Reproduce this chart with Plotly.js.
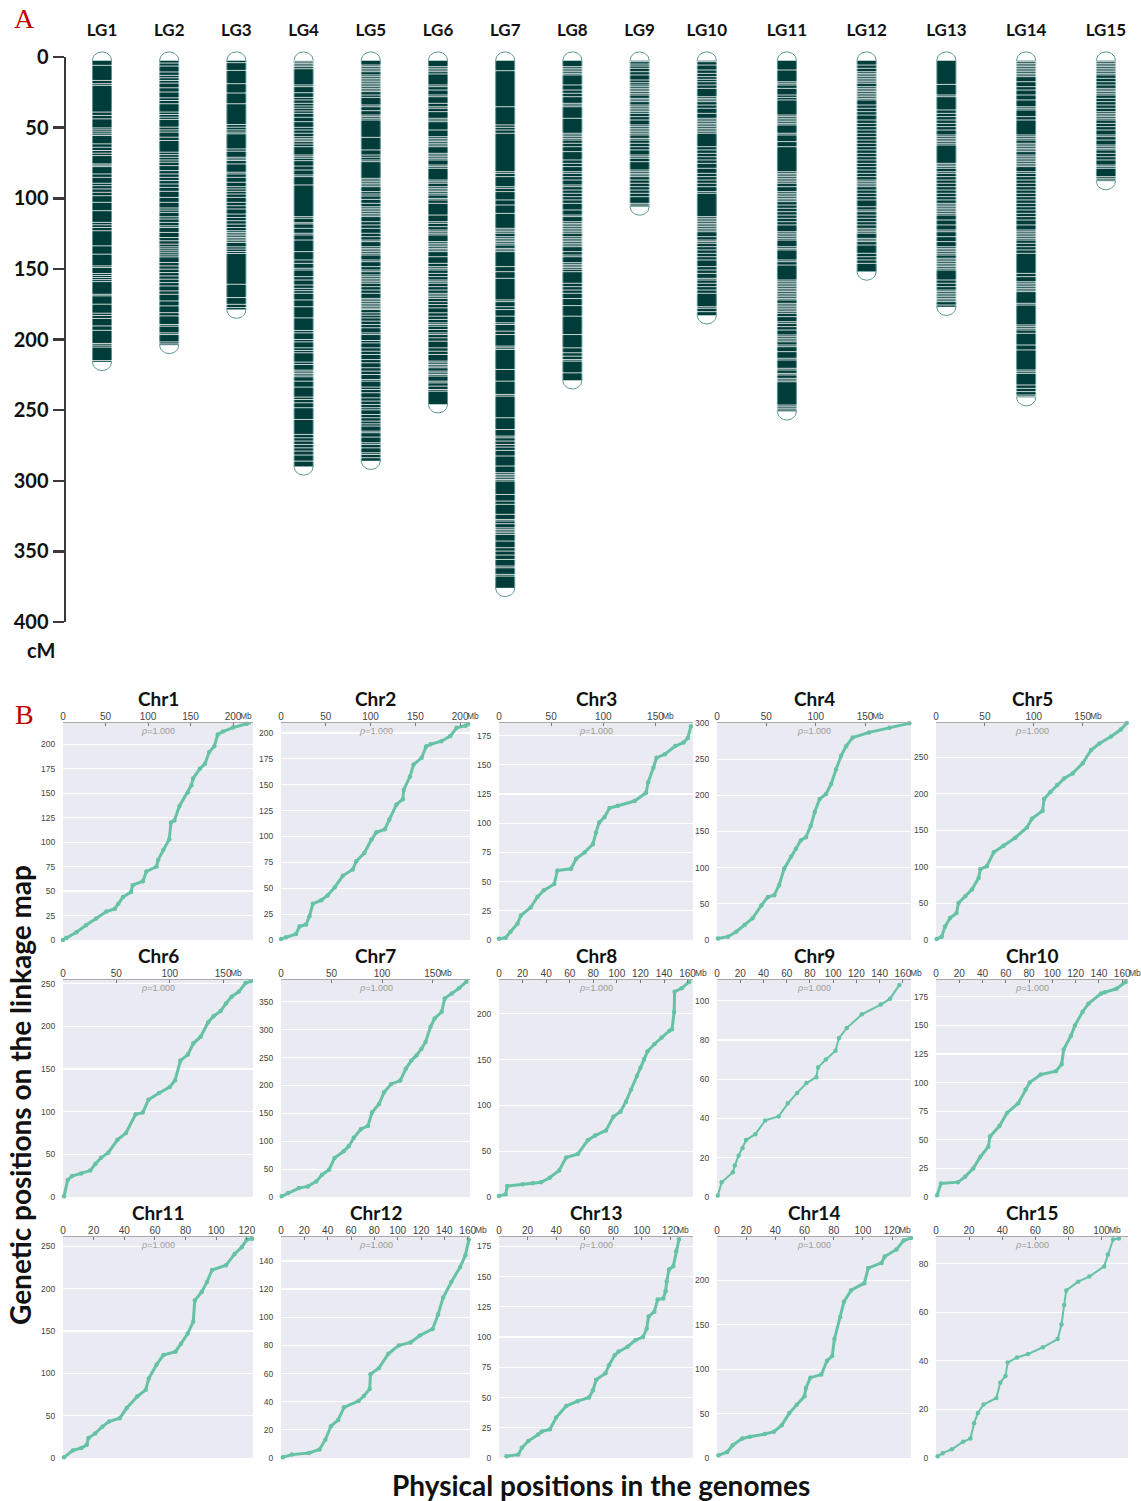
<!DOCTYPE html>
<html><head><meta charset="utf-8">
<script src="https://cdn.plot.ly/plotly-3.0.1.min.js"></script>
<style>html,body{margin:0;padding:0;background:#fff}#chart{width:1141px;height:1501px}</style>
</head><body><div id="chart"></div>
<script>
// ---------------- DATA: Panel A (linkage groups, cM) ----------------
const lgNames = ['LG1','LG2','LG3','LG4','LG5','LG6','LG7','LG8','LG9','LG10','LG11','LG12','LG13','LG14','LG15'];
const lgLengths = [216,204,179,290,286,246,376,229,106,183,251,152,177,241,88];
const lg1 = [5.9,16.6,18.9,20.1,39,41.4,43.8,50.2,51.6,53,54.4,55.6,61.5,63.9,66.2,68.1,69.8,75.7,76.6,77.6,82.8,85.2,89.4,91.1,93.4,95.8,98.2,102.9,108.8,117.1,118.8,120.7,123,133.7,139.6,147.9,149,153.3,154.7,156.1,157.6,159,168,169.1,175,181.4,183,185.1,190.4,193.5,202.8,204,205.4,214.9];
const lg2 = [4.3,6.4,10.6,13,14.7,16.6,18.5,21.8,24.8,28.9,30.8,33.1,39,40.7,42.6,44.2,49.7,51.6,53.2,56.8,59.1,67.4,69.1,71,72.9,74.5,76.9,80.4,82.8,85.2,87.5,89.9,92.3,95.1,99.4,102.9,106.9,108.4,110,113.1,114.7,117.1,119.5,120.7,124.2,127.8,130.1,132.5,134.4,135.8,137.2,138.6,140.1,141.5,145.5,147.9,150.2,152.6,155,157.3,159.7,162.1,165.6,168,172.7,176.2,181,183.3,189.4,190.6,195.3,196.5,201.7,203.1];
const lg3 = [4,9.5,18.9,25.5,33.1,47.8,49.7,51.6,53.2,54.4,65.1,66.7,71,72.2,73.3,75.7,81.6,82.8,85.2,88.7,91.8,93.4,95.1,97,99.4,102.9,105.3,107.6,111.2,113.6,115.9,118.3,120.7,123,124.2,125.4,126.6,127.8,128.9,130.1,131.3,134.4,136,137.7,139.1,160.9,170.3,175.1,177.4];
const lg4 = [2.6,3.5,4.5,5.7,6.8,8.3,19.8,21,25.3,28.6,30.4,32.8,34.7,36.3,38.2,39.9,42.7,45.8,49.8,51.7,54,56.4,57.8,58.8,59.9,61.6,63.5,69.4,70.6,71.7,73.4,77.2,80,83.5,84.7,90.6,113,114.2,117.3,118.2,121.3,124.8,126,129.6,137.8,143.7,146.1,149.6,150.8,155.5,157.9,161.4,163.8,165.4,167.3,172,176.8,184.7,193.6,195.3,200,201.7,205.9,207.8,209.4,216,217.7,221.7,222.9,224,225.2,226.4,229.5,233.7,240.8,242.5,244.8,248.3,256.6,267.2,269.6,271.9,274.3,276.7,279,281.8,286.1];
const lg5 = [5.7,6.8,8,9.2,10.4,12.7,13.9,15.1,16.3,17.5,18.6,19.8,21,22.2,23.4,24.5,26.9,28.6,34,35.2,38,41.1,42.2,43.4,44.6,56.9,65.8,69.4,71,72.9,74.1,85.9,87.1,88.3,89.4,90.6,91.8,95.3,97,98.4,100.8,103.6,106,107.1,108.3,109.5,110.7,111.9,113,116.6,118.9,121.3,124.8,127.2,129.6,130.7,134.3,135.5,136.6,137.8,139,140.2,143.7,144.9,148.4,150.8,152,154.3,155.5,156.7,157.9,159.1,160.2,162.6,165,167.3,170.9,172,173.2,174.4,175.6,176.8,177.9,178.8,181.1,182.8,184.7,187,189.4,191.7,195.3,196.5,200.7,202.4,205.9,208.3,210.6,214.2,216.5,220,222.4,224.8,228.3,229.5,233.7,235.4,237.7,241.3,243.6,246,248.3,249.8,253.1,255.4,257.8,259.7,261.3,264.9,266,269.1,273.1,274.3,276.7,280.2,281.4,283.7];
const lg6 = [6.8,8,9.2,10.4,12,19.8,21,23.4,26.9,28.1,32.8,35.2,36.3,38.7,43.4,44.6,45.8,51.7,56.4,57.6,58.8,59.9,61.1,62.3,63.5,68.2,69.4,70.6,71.7,72.9,76.5,77.6,78.8,87.1,88.3,89.4,91.8,93,94.2,95.3,96.5,97.7,100.1,101.2,103.6,111.9,116.6,117.8,120.1,122.5,123.7,124.8,126,130.7,131.9,133.1,134.3,135.5,136.6,137.8,141.4,146.1,148.4,149.6,150.8,153.2,155.5,157.9,159.1,160.2,162.6,165,167.3,168.5,169.7,170.9,173.2,175.2,177.6,181.1,183.5,185.8,188.2,189.4,190.6,192.9,195.3,196.5,198.8,201.2,205.9,208.3,210.6,215.3,216.5,217.7,218.9,220,222.4,223.6,224.8,225.9,229.5,230.7,233,235.4,236.6];
const lg7 = [9.7,35.2,48.1,49.8,51.7,54,81.2,82.4,84.7,91.8,93,95.3,101.2,104.8,110.7,121.3,122.5,123.7,124.8,127.2,128.4,129.6,130.7,131.9,133.1,135.5,136.6,137.8,148.4,152,156.7,172,173.2,176.8,178.8,183.5,188.2,189.4,194.1,196.5,204.7,205.9,207.1,221.2,229.5,238.9,240.1,255.4,263.7,268.4,269.6,271.9,274.3,276.2,278.5,282.5,289.6,294.3,295.5,296.7,297.9,299.1,300.2,309.7,314.4,316.7,323.8,327.4,328.5,330.4,333.3,334.4,335.6,336.8,338,342.7,347.4,349.8,352.6,355.7,360.4,361.6,366.3,367.5];
const lg8 = [6.8,8,9.2,10.4,11.6,12.7,19.8,23.4,25.7,28.1,32.8,34,35.2,43.4,54,55.2,56.4,57.6,58.8,61.1,63.5,67,72.9,75.3,77.6,81.2,82.4,84.7,87.1,90.6,91.8,94.2,96.5,98.9,101.2,103.6,108.3,111.9,113,116.6,117.8,118.9,120.1,121.3,122.5,123.7,124.8,127.2,128.4,129.6,130.7,131.9,133.1,134.3,137.8,140.2,141.4,145.6,146.8,148,149.1,150.3,152,160.2,162.6,165,167.3,171,176,183.5,196.5,205.9,209.4,211.8,214.2,215.3,223.6];
const lg9 = [3.3,5,6.4,8,10.4,12.7,16.3,18.2,19.8,21,22.2,23.4,24.5,25.7,26.9,29.3,30.4,31.6,34,35.2,36.3,37.5,38.7,39.9,42.2,44.6,48.1,49.3,50.5,51.7,52.9,54,55.2,57.6,58.8,61.1,63.5,65.8,69.4,70.6,71.7,74.1,80,81.2,82.4,83.5,84.7,87.1,89.4,91.8,94.2,96.5,98.9,103.6,104.8];
const lg10 = [3.3,5.7,9.2,11.6,13.9,15.8,17.5,19.8,22.2,28.1,29.3,30.4,31.6,34,36.3,39.9,43.4,44.6,45.8,47,48.1,49.3,50.5,51.7,52.9,54,63.5,65.8,68.2,70.6,72.9,75.3,78.8,82.4,84.7,87.1,89.4,91.8,95.3,96.5,113,114.2,115.4,116.6,117.8,118.9,120.1,121.3,122.5,123.7,127.2,129.6,130.7,131.9,134.3,136.6,139,141.4,143.7,148.4,150.8,153.2,156.7,157.9,160.2,162.6,165,167.3,176.8,177.9,180.3];
const lg11 = [9.2,17.5,18.6,19.8,22.2,26.9,28.6,30.4,41.1,42.2,43.4,44.6,45.8,47,48.1,54,55.2,59.9,63.5,81.2,82.4,83.5,84.7,85.9,87.1,88.3,89.4,91.8,95.3,96.5,97.7,98.9,100.1,101.2,102.4,104.8,107.1,109.5,111.9,114.2,116.6,118.9,123.7,124.8,126,127.2,128.4,129.6,134.3,135.5,136.6,143.7,144.9,147.3,157.9,159.1,160.2,161.4,162.6,163.8,165,166.1,167.3,168.5,169.7,170.9,172,174.4,175.6,176.8,177.9,179.1,180.3,181.5,183.8,187.4,188.6,190.9,193.3,196.8,198,199.2,200.4,201.6,203.9,205.1,208.6,213.3,214.5,220.4,221.6,224,225.1,227.5,228.7,229.9,246.4,247.6,248.7,249.9];
const lg12 = [5.7,8,10.4,11.6,12.7,13.9,15.1,16.3,17.5,18.6,21,22.2,23.4,24.5,25.7,26.9,28.1,29.3,30.4,34,36.3,38.7,41.1,44.6,47,49.3,51.7,54,56.4,58.8,61.1,63.5,65.8,68.2,70.6,72.9,75.3,77.6,80,82.4,84.7,87.1,88.3,89.4,90.6,91.8,94.2,96.5,98.9,101.2,106,108.3,109.5,111.9,114.2,116.6,118.9,121.3,122.5,123.7,124.8,128.4,129.6,130.7,133.1,139,141.4,143.7,146.1];
const lg13 = [19.4,26.9,28.1,37.5,39.9,42.2,44.6,47,49.3,51.7,55.2,56.4,57.6,58.8,59.9,61.1,62.3,75.3,76.5,77.6,78.8,81.2,82.4,84.7,87.1,89.4,91.8,94.2,96.5,98.9,101.2,103.6,104.8,106,107.1,108.3,109.5,110.7,111.9,115.4,118.9,122.5,123.7,127.2,130.7,134.3,135.5,136.6,137.8,139,140.2,142.5,143.7,144.9,146.1,147.3,148.4,149.6,150.8,157.9,160.2,162.6,165,166.1,167.3,168.5,169.7,170.9,172,173.2,175.6];
const lg14 = [3.3,4.5,5.7,6.8,8,9.2,10.4,11.6,12.7,13.9,17.5,21,23.4,26.9,30.4,35.2,36.3,37.5,42.2,44.6,55.2,56.4,57.6,58.8,61.1,62.3,63.5,64.7,65.8,67,69.4,70.6,71.7,72.9,74.1,75.3,76.5,77.6,81.2,82.4,84.7,87.1,89.4,91.8,94.2,96.5,98.9,101.2,103.6,106,108.3,110.7,113,115.4,118.9,122.5,123.7,124.8,126,127.2,128.4,129.6,131.9,134.3,136.6,139,153.2,155.5,159.1,160.2,161.4,162.6,163.8,165,166.1,174.4,175.6,189.7,190.9,192.1,193.3,195.6,203.9,207.4,221.6,222.8,224,232.2,234.6,236.9,239.3,240.5];
const lg15 = [3.3,4.5,5.7,6.8,8,9.2,10.4,11.6,12.7,15.1,17.5,19.8,22.2,23.4,24.5,25.7,26.9,29.3,31.6,34,36.3,38.7,39.9,41.1,42.2,43.4,44.6,47,49.3,51.7,55.2,56.4,58.8,62.3,63.5,64.7,65.8,68.2,70.6,72.9,76.5,77.6,78.8,84.7,85.9,87.1];
const lgMarkers = [lg1,lg2,lg3,lg4,lg5,lg6,lg7,lg8,lg9,lg10,lg11,lg12,lg13,lg14,lg15];
const cmTicks = [0,50,100,150,200,250,300,350,400];

// ---------------- DATA: Panel B (physical Mb vs genetic cM) ----------------
const chrNames = ['Chr1','Chr2','Chr3','Chr4','Chr5','Chr6','Chr7','Chr8','Chr9','Chr10','Chr11','Chr12','Chr13','Chr14','Chr15'];
const rhoText = '1.000';
const chr1Mb = [0,3.9,15.7,27,39,51,61,65,70.6,80,82,94,98,110,112,118,125,127,131,137,147,151,153,161,167,172,178,182,188,200,216,221];
const chr1cM = [0,2,8,15,22,29,32,37,44,49,56,60,70,75,82,92,103,120,122,137,151,158,165,175,180,192,198,210,213,217,221,222];
const chr2Mb = [0,5.6,16.8,20.6,28,31.8,35.5,45,52,60,69,80,84,93,101,106.5,116,121,129,136,137,144,148,157,162,167,179,189,196,206,209];
const chr2cM = [1,2.6,5.8,13,15,23,35,38.5,43,51,62,68,76,84,97,104,107,116.5,131,136,145,158,169.5,176,187,189,192,197,205,207,208.6];
const chr3Mb = [0,6.4,11,17.7,21,30.5,37,43,53,56,69,74,82,90,93,96,101,106,114,130,141,143,148,151,159,169,177,181,184];
const chr3cM = [1,2,7,14,21,28,37,42.5,48,59.5,61,69.5,75,82,92,100.7,105,113,115,119,126,135,147.5,156,159,166,169,173,183];
const chr4Mb = [1,11,19.5,28,36,45,51.6,58,63,68,75,80,85,90,95,99,104,110.5,115.6,120.6,125.7,130.8,137.5,154,174.6,194.8];
const chr4cM = [2,4.6,11.5,20.6,30,48,59.6,62,76,98.6,115,126,138,142,158,177,195,202,215.6,236,254.6,268,280,287,293.6,299.5];
const chr5Mb = [0.7,5.8,9.3,14.4,21,23,30,36.7,43.6,45.3,52,59,69,81,93,98,109,110.5,117,124,131,139.7,150,158.6,167,179,189,195];
const chr5cM = [1.4,4.6,18.4,30,37,50.6,60,69,85,96.7,101,120,129,140,154,166,177,193,202.6,212,221,228,242,260,269,278.5,288,297];
const chr6Mb = [1,4.4,8.5,17,25.5,30.5,35.6,42.4,51,59,68,74.7,80,90,100,105,110,117,122,129,136,141,147.6,152.7,158,164.6,171,176];
const chr6cM = [1,20,24.5,27.5,31,39,46,52,67,75,97,99,114,122,129,137,160,167,180,188,205,212,218,227,235,240.6,251,253];
const chr7Mb = [0.7,7,17.6,26.5,35,40.6,47.6,53,62,67,72,79,86,90,97,102,109,118,123.5,129,134,139,143,148,152,159,162,169,176,183.5];
const chr7cM = [1.2,7,16,19,28,40,49,70,82,91,106,121.5,127.5,151.5,166.6,187.6,202.7,208.7,229.7,244.8,253.8,265.8,278,305,320,332,356,365,374,386];
const chr8Mb = [0,5.7,7,20,28.6,35.7,43,51,57,67,75.4,81.5,90.8,97,103,107.7,112,117,120,123,126,132,138,144.6,146.8,148.6,149,155,161.5];
const chr8cM = [1,3,12,14,15,16,21,29,43,47,62,67,72.7,87.5,93,104,117,132,141,150,159,167,174,181.5,183,202,224,227.7,235];
const chr9Mb = [0.7,4,13.7,15.3,18.6,22,25,33,41.5,53,61,69,77,85.5,87,93.7,102,105,111.7,124.7,141,149,157];
const chr9cM = [0.8,7.5,12.6,16,21,25,29,32,39,41,47.7,53,58,61,66,70,74.5,81,86,93,98,101,108];
const chr10Mb = [1,4.2,18.8,25,32,38,45,46.4,54.5,61,70.7,77,80.5,90,103,108,109.7,116,119.4,126,131,142,145,155,163];
const chr10cM = [1.5,11.8,13,17.6,25,35,44,53,62,73.5,82,94,100,107,110,116,129,141,150,162,169,178,179,182,188];
const chr11Mb = [0.7,6.4,12,15.5,16.6,21,25.7,30,37,41.6,48.4,54,56,61,65.5,73.4,77,81.4,85,86,90.5,94,97.3,106.4,112,116.6,120,123.4];
const chr11cM = [0.8,9,11.8,15.7,23.5,29,37,43,47,59,72.6,80.5,94,110,121.7,125.6,135,147,161,186,196,208,222,227.6,241,249,258,259];
const chr12Mb = [1.6,9.5,24,33,38,42.8,49,54,66.5,71,76,76.7,84,92,101,111,119,130,134.6,139,146,153.6,158,161];
const chr12cM = [0.5,2.4,3.6,6,13,22.6,27,36,40.5,44,49,59.5,64,74,80,82,87,91.7,102,114,125,135.7,144,155];
const chr13Mb = [5.3,13.5,16,20.5,27.4,30,35.6,40,47,55,63,65.8,68,74.5,77,81,83.7,90,95.5,100.8,103.4,104.7,108.7,111,115,116.6,117.4,119,122,124,126];
const chr13cM = [1.4,2.8,8.4,14,19.5,22,23.7,33.5,43,47,50,56,64.7,70,76.7,85,88,92,97.5,100,107,117,121,131,132,138,146,156,158.6,171,181];
const chr14Mb = [1,7,10.8,17.3,22.5,32.8,39,44.4,49.6,54.7,60,61,64,71.5,75.4,79,80.5,84.4,87,92,101,103.7,112.8,115,123,128,133];
const chr14cM = [3,6.8,14.4,22,24,27,29.7,37,50.6,60,69.6,79,90.5,94,109.5,115,134,159,176,189,197,214,219.8,227,235,245,248];
const chr15Mb = [1,4,9.6,16.4,20.8,23,25.3,28.7,36.5,38.8,42,43.3,48.9,55.6,64.6,73.5,75.8,77.4,78.7,85.9,92.6,101.6,103.8,107,110.5];
const chr15cM = [0.7,2,3.6,6.7,8,14.3,18.5,22,24.7,31,33.8,39.3,41.4,42.8,45.6,49,55,63,69,72.6,74.7,78.9,83.8,90,90.4];
const chrMb = [chr1Mb,chr2Mb,chr3Mb,chr4Mb,chr5Mb,chr6Mb,chr7Mb,chr8Mb,chr9Mb,chr10Mb,chr11Mb,chr12Mb,chr13Mb,chr14Mb,chr15Mb];
const chrCM = [chr1cM,chr2cM,chr3cM,chr4cM,chr5cM,chr6cM,chr7cM,chr8cM,chr9cM,chr10cM,chr11cM,chr12cM,chr13cM,chr14cM,chr15cM];

// ---------------- LAYOUT CONFIG ----------------
const W = 1141, H = 1501;
const fx = p => p / W, fy = p => 1 - p / H;
const darkTeal = '#003c39', outline = '#5a9592', pointColor = '#66c2a5';
const boldFont = 'Lato, "Open Sans", sans-serif';

const chrXMax = [223.5,211,186,196.5,196.3,178,187,164.6,167,165,124,162,135.8,133,116];
const chrYMax = [221.7,209.6,185.8,300,297,254.5,389,236.8,110.5,189.7,261,157,182.8,249,91];
const chrXDt = [50,50,50,50,50,50,50,20,20,20,20,20,20,20,20];
const chrYDt = [25,25,25,50,50,50,50,50,20,25,50,20,25,50,20];
const colPx = [[63,253],[281,470],[499,693],[717,911],[936,1128]];
const rowPx = [[723,940],[980,1197],[1237,1458]];

const traces = [];
const layout = {
  width: W, height: H, margin: {l:0, r:0, t:0, b:0},
  paper_bgcolor: '#fff', plot_bgcolor: 'rgba(0,0,0,0)',
  showlegend: false, hovermode: false,
  font: {family: '"Liberation Sans", Arial, sans-serif', color: '#444'},
  shapes: [], annotations: []
};

// ---- Panel A ----
const aTop = 40, aBot = 640, cm0 = 57, cm400 = 622;
const pxPerCM = (cm400 - cm0) / 400;
const yRangeA = [400 + (aBot - cm400) / pxPerCM, -(cm0 - aTop) / pxPerCM];
const groups = [
  {ids:[0,1,2,3,4,5,6,7,8,9], xa:'x', ya:'y', dom:[68.4, 740.6], unit:67.2},
  {ids:[10,11,12,13,14], xa:'x2', ya:'y2', dom:[747, 1141], unit:79.76}
];
const barW = 19, barTop = 2.4, capH = 6;
groups.forEach((g, gi) => {
  const sfx = gi === 0 ? '' : '2';
  const loc = g.ids.map((_, k) => k);
  const nUnits = (g.dom[1] - g.dom[0]) / g.unit;
  layout['xaxis' + sfx] = {
    domain: [fx(g.dom[0]), fx(g.dom[1])], anchor: 'y' + sfx, side: 'top',
    range: [-0.5, -0.5 + nUnits], tickvals: loc, ticktext: g.ids.map(i => lgNames[i]),
    showgrid: false, zeroline: false, showline: false, ticks: '',
    tickfont: {family: boldFont, size: 17, weight: 'bold', color: '#111'}, fixedrange: true
  };
  layout['yaxis' + sfx] = {
    domain: [fy(aBot), fy(aTop)], anchor: 'x' + sfx, range: yRangeA,
    visible: false, showgrid: false, zeroline: false, fixedrange: true
  };
  traces.push({
    type: 'bar', x: loc, base: g.ids.map(() => barTop), y: g.ids.map(i => lgLengths[i] - barTop),
    width: barW / g.unit, marker: {color: darkTeal, line: {color: outline, width: 1}},
    xaxis: g.xa, yaxis: g.ya, hoverinfo: 'skip'
  });
  const mx = [], my = [];
  g.ids.forEach((i, k) => lgMarkers[i].forEach(v => { mx.push(k); my.push(v); }));
  traces.push({
    type: 'scatter', mode: 'markers', x: mx, y: my, xaxis: g.xa, yaxis: g.ya, hoverinfo: 'skip',
    marker: {symbol: 'line-ew', size: barW - 2, color: '#fff', line: {color: '#ffffff', width: 0.8}}
  });
  const cx = [], cy = [];
  const rx = (barW / 2) / g.unit;
  g.ids.forEach((i, k) => {
    [[barTop, -1], [lgLengths[i], 1]].forEach(([y0, dir]) => {
      for (let s = 0; s <= 24; s++) {
        const t = Math.PI * s / 24;
        cx.push(k + rx * Math.cos(t)); cy.push(y0 + dir * capH * Math.sin(t));
      }
      cx.push(null); cy.push(null);
    });
  });
  traces.push({
    type: 'scatter', mode: 'lines', x: cx, y: cy, fill: 'toself', fillcolor: '#fff',
    line: {color: outline, width: 1}, xaxis: g.xa, yaxis: g.ya, hoverinfo: 'skip', connectgaps: false
  });
});
// ruler axis
layout.xaxis3 = {domain: [fx(66), fx(90)], anchor: 'y3', range: [0, 1], visible: false, fixedrange: true};
layout.yaxis3 = {
  domain: [fy(cm400), fy(cm0)], anchor: 'x3', range: [400, 0], side: 'left',
  showline: true, linewidth: 2.5, linecolor: '#3a3a3a', ticks: 'outside', ticklen: 11, tickwidth: 2.5,
  tickcolor: '#3a3a3a', tickvals: cmTicks, showgrid: false, zeroline: false,
  tickfont: {family: boldFont, size: 20, weight: 'bold', color: '#111'}, fixedrange: true
};
traces.push({type: 'scatter', mode: 'markers', x: [0.5], y: [0], marker: {opacity: 0}, xaxis: 'x3', yaxis: 'y3', hoverinfo: 'skip'});

layout.annotations.push(
  {xref: 'paper', yref: 'paper', x: fx(24), y: fy(19), text: 'A', showarrow: false,
   font: {family: '"Liberation Serif", "Times New Roman", serif', size: 28, color: '#c00000'}, xanchor: 'center', yanchor: 'middle'},
  {xref: 'paper', yref: 'paper', x: fx(24), y: fy(714), text: 'B', showarrow: false,
   font: {family: '"Liberation Serif", "Times New Roman", serif', size: 28, color: '#c00000'}, xanchor: 'center', yanchor: 'middle'},
  {xref: 'paper', yref: 'paper', x: fx(58), y: fy(650), text: '<b>cM</b>', showarrow: false,
   font: {family: boldFont, size: 20, color: '#111'}, xanchor: 'right', yanchor: 'middle'},
  {xref: 'paper', yref: 'paper', x: fx(20), y: fy(1095), text: '<b>Genetic positions on the linkage map</b>', showarrow: false,
   textangle: -90, font: {family: boldFont, size: 28, color: '#111'}, xanchor: 'center', yanchor: 'middle'},
  {xref: 'paper', yref: 'paper', x: fx(601), y: fy(1485), text: '<b>Physical positions in the genomes</b>', showarrow: false,
   font: {family: boldFont, size: 28, color: '#111'}, xanchor: 'center', yanchor: 'middle'}
);

// ---- Panel B ----
chrNames.forEach((name, k) => {
  const n = k + 4;
  const col = colPx[k % 5], row = rowPx[Math.floor(k / 5)];
  const xa = 'x' + n, ya = 'y' + n;
  layout['xaxis' + n] = {
    domain: [fx(col[0]), fx(col[1])], anchor: ya, side: 'top', range: [0, chrXMax[k]],
    tick0: 0, dtick: chrXDt[k], showgrid: false, zeroline: false, showline: true,
    linecolor: '#a8a8a8', linewidth: 1, ticks: 'inside', ticklen: 3, tickcolor: '#777',
    ticklabelstandoff: -2,
    tickfont: {size: 10, color: '#444'}, fixedrange: true
  };
  layout['yaxis' + n] = {
    domain: [fy(row[1]), fy(row[0])], anchor: xa, range: [0, chrYMax[k]],
    tick0: 0, dtick: chrYDt[k], showgrid: true, gridcolor: '#ffffff', gridwidth: 1.2,
    zeroline: false, showline: false, ticks: 'outside', ticklen: 5, tickcolor: 'rgba(0,0,0,0)',
    tickfont: {size: 8.5, color: '#444'}, fixedrange: true
  };
  layout.shapes.push({type: 'rect', xref: xa + ' domain', yref: ya + ' domain', x0: 0, x1: 1, y0: 0, y1: 1,
    fillcolor: '#eaeaf2', line: {width: 0}, layer: 'below'});
  traces.push({
    type: 'scatter', mode: 'lines+markers', x: chrMb[k], y: chrCM[k], xaxis: xa, yaxis: ya,
    line: {color: pointColor, width: (k === 8 || k === 14) ? 2 : 3},
    marker: {color: pointColor, size: 4.5}, cliponaxis: false, hoverinfo: 'skip'
  });
  const colCenter = (col[0] + col[1]) / 2;
  layout.annotations.push(
    {xref: 'paper', yref: 'paper', x: fx(colCenter), y: fy(row[0] - 25), text: '<b>' + name + '</b>', showarrow: false,
     font: {family: boldFont, size: 19, color: '#111'}, xanchor: 'center', yanchor: 'middle'},
    {xref: xa + ' domain', yref: ya + ' domain', x: 0.5, y: 1, yshift: -1, text: '<i>ρ</i>=' + rhoText, showarrow: false,
     font: {size: 9, color: '#999'}, xanchor: 'center', yanchor: 'top'}
  );
  if (k !== 10) {
    const lastTick = Math.floor(chrXMax[k] / chrXDt[k]) * chrXDt[k];
    const digits = String(lastTick).length;
    layout.annotations.push({xref: xa, yref: ya + ' domain', x: lastTick, y: 1, xshift: digits * 2.0, yshift: 1,
      text: 'Mb', showarrow: false, font: {size: 8.5, color: '#444'}, xanchor: 'left', yanchor: 'bottom', borderpad: 0});
  }
});

Plotly.newPlot('chart', traces, layout, {staticPlot: true, displayModeBar: false});
</script>
</body></html>
